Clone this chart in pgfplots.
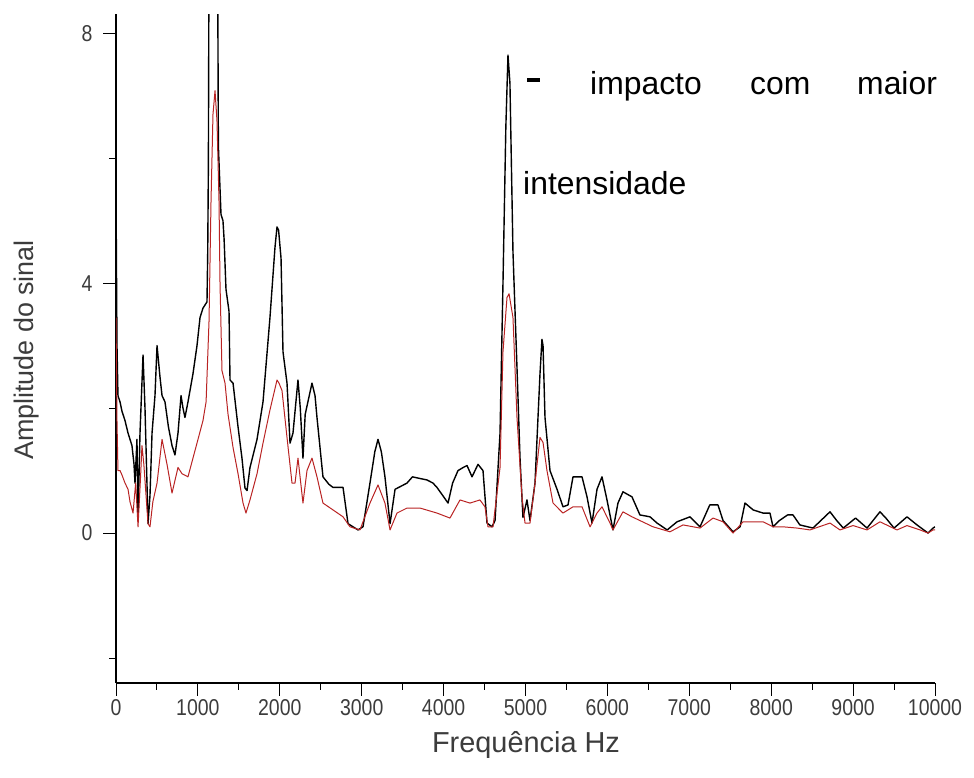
\documentclass[border=0pt]{standalone}
\usepackage{pgfplots}
\usepackage{pgfplotstable}
\pgfplotsset{compat=1.18}
\usepackage{fontspec}
\setmainfont{Liberation Sans}
\newfontfamily\ticksfont[FakeStretch=0.85]{Liberation Sans}
\definecolor{sinalred}{RGB}{185,35,35}
\definecolor{labelgray}{RGB}{60,60,60}

% Spectrum amplitude, stronger impact (black)
\pgfplotstableread{
f a
0 5.45
12 3.0
24 2.2
49 2.1
73 1.95
110 1.8
147 1.6
171 1.5
195 1.4
220 1.1
232 0.8
256 1.5
269 0.2
293 1.6
330 2.85
354 2.0
391 0.15
415 0.6
440 1.6
476 2.2
501 3.0
537 2.5
562 2.2
598 2.1
640 1.7
684 1.4
720 1.25
757 1.6
794 2.2
818 2.0
842 1.85
879 2.1
940 2.55
989 3.0
1026 3.45
1062 3.6
1111 3.7
1120 4.5
1128 5.9
1136 9.5
1190 10
1240 9.5
1250 6.2
1282 5.1
1306 5.0
1320 4.7
1343 3.9
1380 3.55
1392 2.45
1429 2.4
1490 1.7
1538 1.2
1575 0.72
1600 0.68
1636 1.05
1722 1.5
1795 2.1
1880 3.45
1941 4.57
1966 4.9
1985 4.85
2015 4.4
2039 2.9
2088 2.4
2125 1.44
2161 1.6
2222 2.45
2250 2.0
2283 1.2
2310 1.9
2393 2.4
2430 2.2
2454 1.85
2527 0.9
2600 0.78
2650 0.73
2772 0.73
2833 0.15
2894 0.1
2955 0.05
3016 0.1
3101 0.8
3160 1.3
3199 1.5
3240 1.3
3284 0.9
3346 0.15
3407 0.7
3480 0.75
3553 0.8
3620 0.9
3687 0.88
3797 0.85
3870 0.8
3919 0.73
3990 0.6
4054 0.48
4110 0.8
4176 1.0
4240 1.05
4286 1.08
4347 0.9
4420 1.1
4481 1.0
4530 0.16
4591 0.1
4628 0.2
4689 1.6
4725 4.0
4760 6.5
4786 7.65
4810 7.2
4847 4.5
4896 2.65
4933 1.2
4969 0.25
5018 0.53
5055 0.2
5116 0.8
5177 2.55
5201 3.1
5214 3.0
5238 1.85
5299 1.0
5385 0.7
5458 0.42
5519 0.45
5580 0.9
5690 0.9
5751 0.58
5812 0.16
5873 0.7
5934 0.9
5995 0.53
6068 0.05
6129 0.48
6190 0.66
6300 0.58
6397 0.29
6520 0.26
6606 0.16
6730 0.05
6850 0.18
7009 0.26
7131 0.1
7250 0.45
7350 0.45
7412 0.2
7534 0.02
7620 0.1
7680 0.48
7780 0.37
7900 0.32
7985 0.32
8022 0.1
8100 0.2
8200 0.29
8266 0.29
8350 0.13
8510 0.08
8718 0.34
8800 0.2
8880 0.08
9030 0.24
9170 0.08
9328 0.34
9400 0.24
9500 0.08
9658 0.26
9780 0.13
9915 0.0
9976 0.08
10000 0.1
}\forte

% Spectrum amplitude, weaker impact (red)
\pgfplotstableread{
f a
0 3.45
12 1.8
24 1.0
49 1.0
73 0.93
110 0.8
147 0.7
171 0.5
208 0.32
240 0.8
269 0.1
300 0.9
317 1.4
340 1.1
391 0.15
415 0.1
450 0.5
501 0.8
562 1.5
623 1.1
684 0.64
757 1.05
806 0.95
879 0.9
940 1.2
989 1.44
1062 1.8
1100 2.1
1136 3.4
1160 5.3
1184 6.7
1209 7.08
1233 6.6
1258 5.3
1270 4.0
1294 2.6
1331 2.4
1368 1.9
1429 1.37
1490 0.95
1551 0.48
1587 0.32
1636 0.53
1722 0.95
1795 1.44
1880 1.97
1966 2.45
1990 2.4
2027 2.28
2088 1.53
2149 0.8
2186 0.8
2222 1.2
2283 0.48
2332 1.0
2393 1.2
2454 0.9
2527 0.48
2650 0.37
2772 0.26
2857 0.1
2979 0.05
3101 0.48
3199 0.77
3284 0.48
3346 0.05
3431 0.32
3553 0.4
3712 0.4
3919 0.32
4078 0.24
4200 0.53
4322 0.48
4444 0.53
4505 0.42
4542 0.1
4603 0.1
4689 1.05
4725 2.9
4774 3.77
4799 3.83
4847 3.45
4896 1.85
4957 0.58
4994 0.16
5055 0.16
5116 0.8
5177 1.53
5214 1.45
5262 1.0
5336 0.48
5458 0.32
5580 0.42
5690 0.42
5788 0.1
5873 0.32
5934 0.42
6032 0.16
6068 0.05
6190 0.34
6300 0.26
6397 0.2
6557 0.1
6764 0.02
6923 0.13
7131 0.08
7290 0.24
7412 0.18
7534 0.0
7656 0.18
7900 0.18
8022 0.1
8144 0.1
8315 0.08
8474 0.05
8718 0.16
8840 0.05
8999 0.12
9170 0.05
9328 0.18
9536 0.05
9658 0.12
9817 0.05
9915 0.0
9976 0.05
10000 0.05
}\fraco

\begin{document}
\begin{tikzpicture}
\useasboundingbox (0,0) rectangle (974bp,778bp);
\begin{axis}[
  at={(116bp,95bp)}, anchor=south west,
  scale only axis, width=819bp, height=668.5bp,
  xmin=0, xmax=10000, ymin=-2.4, ymax=8.3,
  axis lines*=left,
  axis line style={line width=1.2bp, black},
  xtick={0,1000,...,10000},
  minor xtick={500,1500,...,9500},
  ytick={0,4,8},
  minor ytick={-2,2,6},
  tick align=outside,
  major tick length=13bp, minor tick length=7bp,
  every tick/.style={line width=1bp, black},
  scaled x ticks=false,
  /pgf/number format/assume math mode=true,
  /pgf/number format/1000 sep={},
  tick label style={font=\ticksfont\fontsize{23}{23}\selectfont, text=labelgray},
  yticklabel style={xshift=-7bp},
]
\addplot[black, line width=1.4bp, no marks, line join=round] table[x=f, y=a] {\forte};
\addplot[sinalred, line width=1bp, no marks, line join=round] table[x=f, y=a] {\fraco};
\end{axis}

% axis titles
\node[font=\fontsize{29}{29}\selectfont, text=labelgray] at (526bp,33bp) {Frequência Hz};
\node[font=\fontsize{27}{27}\selectfont, text=labelgray, rotate=90] at (27bp,428bp) {Amplitude do sinal};

% annotation
\begin{scope}[every node/.style={font=\fontsize{32}{32}\selectfont, anchor=base west, inner sep=0pt}]
\node at (527bp,696bp) {\rule{13bp}{4bp}};
\node at (590bp,683bp) {impacto};
\node at (750bp,683bp) {com};
\node at (857bp,683bp) {maior};
\node at (523bp,583bp) {intensidade};
\end{scope}
\end{tikzpicture}
\end{document}
